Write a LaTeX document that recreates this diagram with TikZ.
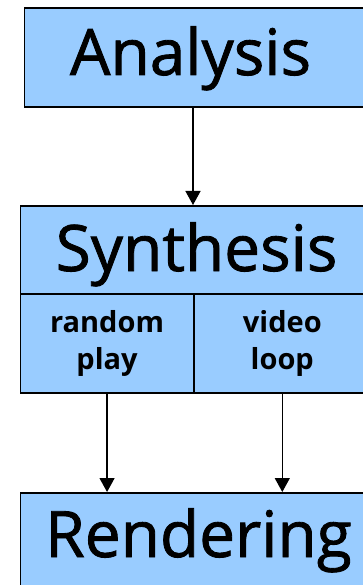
\documentclass[tikz,border=0pt]{standalone}
\usepackage{fontspec}
\setmainfont{Open Sans}
\newfontface\titleface{Open Sans}[FakeBold=1.3]
\usetikzlibrary{arrows.meta,positioning}

\definecolor{stageblue}{RGB}{153,204,255}

\begin{document}
\begin{tikzpicture}[
    x=1pt, y=1pt,
    >={Triangle[width=15pt,length=14pt]},
    line join=miter,
    stage/.style={draw, rectangle, line width=1.6pt, fill=stageblue, inner sep=0pt, anchor=north west},
    title/.style={font=\titleface\fontsize{64}{64}\selectfont, anchor=base, inner sep=0pt},
    sub/.style={font=\bfseries\fontsize{29}{37}\selectfont, align=center},
    flow/.style={->, line width=1.4pt}
]

% ======================================
% page frame
% ======================================
\useasboundingbox (0,0) rectangle (363,-585);
\clip (0,0) rectangle (363,-585);

% ======================================
% Analysis
% ======================================
\node[stage, minimum width=346.5pt, minimum height=98.5pt] (ana) at (23.5,-7.5) {};
\node[title] (anaT) at (190.5,-75) {Analysis};

% ======================================
% Synthesis and its two parts
% ======================================
\node[stage, minimum width=350.5pt, minimum height=88pt] (syn) at (19.5,-205) {};
\node[title] (synT) at (196.5,-271) {Synthesis};

\node[stage, sub, minimum width=173.5pt, minimum height=99pt] (rnd) at (19.5,-293) {random\\play};
\node[stage, sub, minimum width=177pt, minimum height=99pt] (vid) at (193,-293) {video\\loop};

% ======================================
% Rendering
% ======================================
\node[stage, minimum width=350.5pt, minimum height=120pt] (ren) at (19.5,-492) {};
\node[title] (renT) at (198.5,-557) {Rendering};

% ======================================
% arrows
% ======================================
\draw[flow] (ana.south -| vid.west) -- (syn.north -| vid.west);
\draw[flow] (rnd.south) -- (rnd.south |- ren.north);
\draw[flow] (vid.south) -- (vid.south |- ren.north);

\end{tikzpicture}
\end{document}
